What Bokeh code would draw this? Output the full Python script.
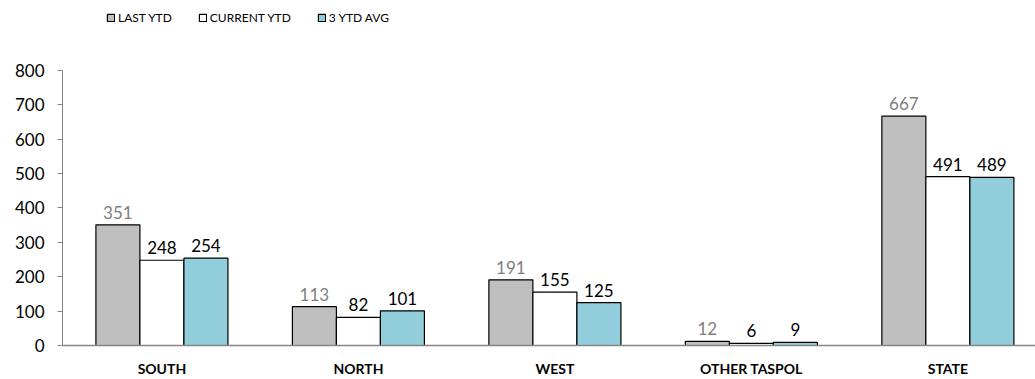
from bokeh.plotting import figure
from bokeh.models import ColumnDataSource, FixedTicker, Legend, LegendItem, LabelSet
from bokeh.core.properties import value
from bokeh.embed import file_html
from bokeh.resources import INLINE

categories = ["SOUTH", "NORTH", "WEST", "OTHER TASPOL", "STATE"]
last_ytd = [351, 113, 191, 12, 667]
current_ytd = [248, 82, 155, 6, 491]
avg_3ytd = [254, 101, 125, 9, 489]
series_names = ["LAST YTD", "CURRENT YTD", "3 YTD AVG"]
y_ticks = [0, 100, 200, 300, 400, 500, 600, 700, 800]

colors = ["#BFBFBF", "#FFFFFF", "#92CDDC"]
label_colors = ["#808080", "#000000", "#000000"]
FONT = "Lato"

p = figure(width=1035, height=379, output_backend="svg", toolbar_location=None,
           x_range=(-0.006, 4.946), y_range=(0, 1003.6))
p.min_border_left = 62
p.min_border_right = 0
p.min_border_top = 0
p.min_border_bottom = 34
p.outline_line_color = None
p.xgrid.grid_line_color = None
p.ygrid.grid_line_color = None
p.background_fill_color = "white"
p.border_fill_color = "white"

centers = [i + 0.5 for i in range(len(categories))]
bw = 0.224
offsets = [-bw, 0.0, bw]
renderers = []
for k, vals in enumerate([last_ytd, current_ytd, avg_3ytd]):
    xs = [c + offsets[k] for c in centers]
    src = ColumnDataSource(dict(x=xs, top=vals, lab=[str(v) for v in vals]))
    r = p.vbar(x="x", top="top", width=bw, bottom=0, source=src,
               fill_color=colors[k], line_color="#000000", line_width=1.2)
    renderers.append(r)
    lbl = LabelSet(x="x", y="top", text="lab", source=src, y_offset=6,
                   text_align="center", text_baseline="bottom",
                   text_font=value(FONT), text_font_size="17px", text_color=label_colors[k])
    p.add_layout(lbl)

# axes
p.xaxis.ticker = FixedTicker(ticks=centers)
p.xaxis.major_label_overrides = {c: n for c, n in zip(centers, categories)}
p.xaxis.major_tick_line_color = None
p.xaxis.minor_tick_line_color = None
p.xaxis.axis_line_color = "#868686"
p.xaxis.axis_line_width = 1.5
p.xaxis.major_label_text_font = FONT
p.xaxis.major_label_text_font_style = "bold"
p.xaxis.major_label_text_font_size = "14px"
p.xaxis.major_label_text_color = "#000000"
p.xaxis.major_label_standoff = 8

p.yaxis.ticker = FixedTicker(ticks=y_ticks)
p.yaxis.bounds = (0, 800)
p.yaxis.axis_line_color = "#868686"
p.yaxis.major_tick_line_color = "#868686"
p.yaxis.major_tick_out = 5
p.yaxis.major_tick_in = 0
p.yaxis.minor_tick_line_color = None
p.yaxis.major_label_text_font = FONT
p.yaxis.major_label_text_font_size = "17px"
p.yaxis.major_label_text_color = "#000000"
p.yaxis.major_label_standoff = 13

legend = Legend(items=[LegendItem(label=n, renderers=[r]) for n, r in zip(series_names, renderers)],
                orientation="horizontal", location=(44, 320),
                glyph_width=9, glyph_height=9, label_standoff=3, spacing=26,
                padding=1, margin=0, label_height=10,
                label_text_font=FONT, label_text_font_size="12px",
                label_text_color="#000000",
                border_line_color=None, background_fill_alpha=0)
p.add_layout(legend)

open("out.html", "w").write(file_html(p, INLINE))
